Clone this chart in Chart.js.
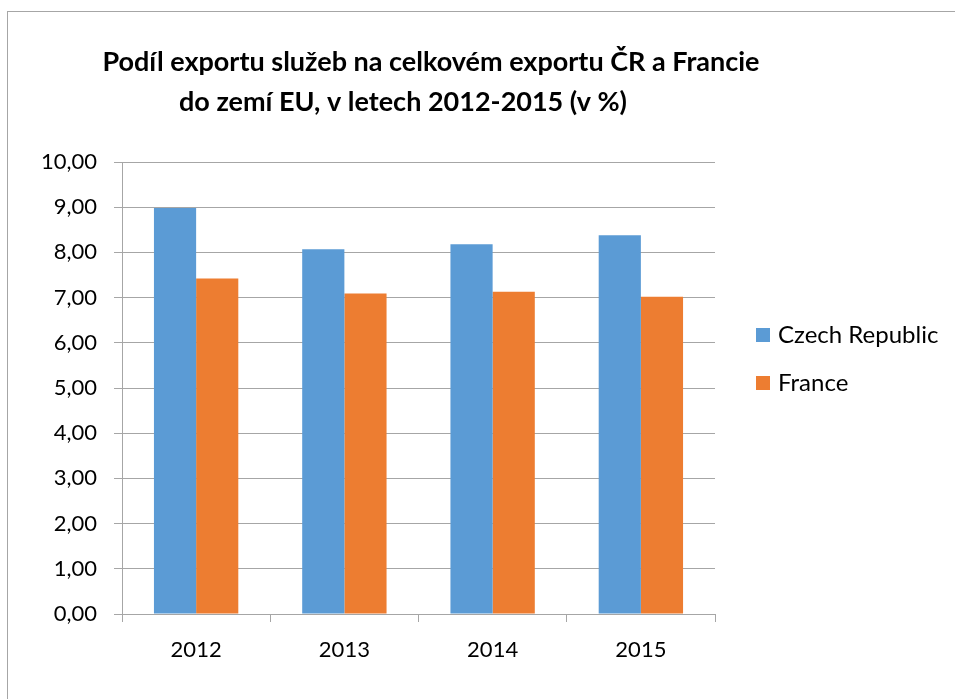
<!DOCTYPE html>
<html>
<head>
<meta charset="utf-8">
<script src="https://cdn.jsdelivr.net/npm/chart.js@4.4.1/dist/chart.umd.min.js"></script>
<style>
  html, body { margin: 0; padding: 0; background: #fff; }
  #wrap { position: relative; width: 955px; height: 699px; }
  #frame { position: absolute; left: 7px; top: 11px; width: 960px; height: 700px;
           border-left: 1px solid #a6a6a6; border-top: 1px solid #a6a6a6; }
  canvas { position: absolute; left: 0; top: 0; }
</style>
</head>
<body>
<div id="wrap">
  <div id="frame"></div>
  <canvas id="c" width="955" height="699"></canvas>
</div>
<script>
const titleLines = ['Podíl exportu služeb na celkovém exportu ČR a Francie', 'do zemí EU, v letech 2012-2015 (v %)'];
const categories = ['2012', '2013', '2014', '2015'];
const czechRepublic = [8.98, 8.07, 8.18, 8.38];
const france = [7.42, 7.09, 7.13, 7.02];
const seriesNames = ['Czech Republic', 'France'];
const seriesColors = ['#5B9BD5', '#ED7D31'];

const FONT = 'Lato, "Open Sans", sans-serif';

const titlePlugin = {
  id: 'excelTitle',
  afterDraw(chart) {
    const ctx = chart.ctx;
    ctx.save();
    ctx.fillStyle = '#000';
    ctx.font = 'bold 27px ' + FONT;
    ctx.textAlign = 'center';
    ctx.textBaseline = 'middle';
    ctx.fillText(titleLines[0], 431, 62);
    ctx.fillText(titleLines[1], 403, 102);
    ctx.restore();
  }
};

const legendPlugin = {
  id: 'excelLegend',
  afterDraw(chart) {
    const ctx = chart.ctx;
    ctx.save();
    ctx.font = '24px ' + FONT;
    ctx.textBaseline = 'middle';
    ctx.textAlign = 'left';
    chart.data.datasets.forEach((ds, i) => {
      const cy = 335 + i * 48;
      ctx.fillStyle = ds.backgroundColor;
      ctx.fillRect(756, cy - 7, 14, 14);
      ctx.fillStyle = '#000';
      ctx.fillText(ds.label, 778, cy);
    });
    ctx.restore();
  }
};

new Chart(document.getElementById('c'), {
  type: 'bar',
  data: {
    labels: categories,
    datasets: [
      { label: seriesNames[0], data: czechRepublic, backgroundColor: seriesColors[0] },
      { label: seriesNames[1], data: france, backgroundColor: seriesColors[1] }
    ]
  },
  options: {
    responsive: false,
    animation: false,
    devicePixelRatio: 1,
    layout: { padding: { top: 162, right: 240, bottom: 0, left: 0 } },
    datasets: { bar: { barPercentage: 1.0, categoryPercentage: 0.569 } },
    plugins: {
      legend: { display: false },
      title: { display: false },
      tooltip: { enabled: false }
    },
    scales: {
      x: {
        offset: true,
        grid: { display: true, drawOnChartArea: false, drawTicks: true, tickLength: 8, color: '#a6a6a6', offset: true },
        border: { display: true, color: '#a6a6a6', width: 1 },
        ticks: { color: '#000', font: { family: FONT, size: 22 }, padding: 15 },
        afterFit(scale) { scale.height = 85; }
      },
      y: {
        min: 0, max: 10,
        grid: { color: '#a6a6a6', lineWidth: 1, tickLength: 8, drawTicks: true },
        border: { display: true, color: '#a6a6a6', width: 1 },
        ticks: {
          stepSize: 1,
          color: '#000',
          font: { family: FONT, size: 22 },
          padding: 17,
          callback: v => Number(v).toFixed(2).replace('.', ',')
        },
        afterFit(scale) { scale.width = 122; }
      }
    }
  },
  plugins: [titlePlugin, legendPlugin]
});
</script>
</body>
</html>
